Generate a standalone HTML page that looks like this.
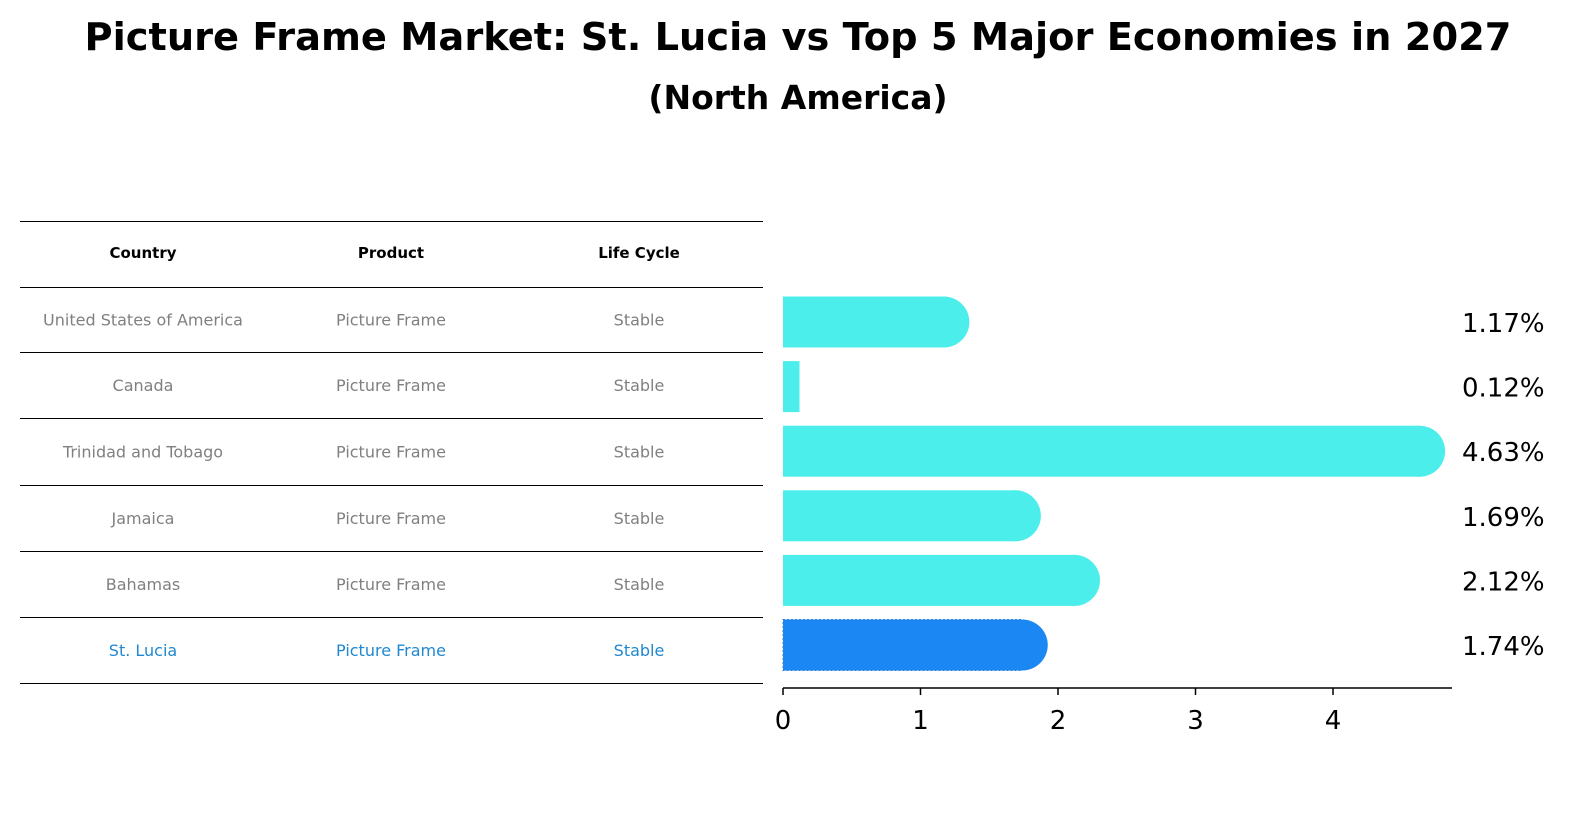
<!DOCTYPE html>
<html><head><meta charset="utf-8"><style>
body{margin:0;background:#fff;font-family:"DejaVu Sans","Liberation Sans",sans-serif;}
</style></head><body>
<svg width="1586" height="823" xmlns="http://www.w3.org/2000/svg" font-family="DejaVu Sans, Liberation Sans, sans-serif">
<text x="798" y="50" text-anchor="middle" font-size="38" font-weight="bold" textLength="1427" lengthAdjust="spacingAndGlyphs">Picture Frame Market: St. Lucia vs Top 5 Major Economies in 2027</text>
<text x="798" y="109" text-anchor="middle" font-size="33" font-weight="bold">(North America)</text>
<g id="table"></g>
<g id="bars"></g>
</svg>
<script>
const countries=["United States of America","Canada","Trinidad and Tobago","Jamaica","Bahamas","St. Lucia"];
const products=["Picture Frame","Picture Frame","Picture Frame","Picture Frame","Picture Frame","Picture Frame"];
const lifeCycles=["Stable","Stable","Stable","Stable","Stable","Stable"];
const values=[1.17,0.12,4.63,1.69,2.12,1.74];
const labels=["1.17%","0.12%","4.63%","1.69%","2.12%","1.74%"];
const ticks=[0,1,2,3,4];
const NS="http://www.w3.org/2000/svg";
function mk(tag,attrs,parent,text){const e=document.createElementNS(NS,tag);for(const k in attrs)e.setAttribute(k,attrs[k]);if(text!==undefined)e.textContent=text;parent.appendChild(e);return e;}
const tbl=document.getElementById('table');
const lineYs=[221,287,352,418,485,551,617,683];
lineYs.forEach(y=>{const l=mk('line',{x1:20,x2:763,y1:y+0.5,y2:y+0.5,stroke:'#000','stroke-width':1},tbl);

});
const colX=[143,391,639];
["Country","Product","Life Cycle"].forEach((h,i)=>{const t=mk('text',{x:colX[i],y:258,'text-anchor':'middle','font-size':15,'font-weight':'bold'},tbl,h);

});
countries.forEach((c,r)=>{const y=(lineYs[r+1]+lineYs[r+2])/2+6;const col=r===countries.length-1?'#1f88d0':'#808080';
[c,products[r],lifeCycles[r]].forEach((v,i)=>{const t=mk('text',{x:colX[i],y:y,'text-anchor':'middle','font-size':16,fill:col},tbl,v);

});});
const bars=document.getElementById('bars');
const x0=783,pxPer=137.5,rowY0=322,rowStep=64.6,bh=51,axisY=688;
const xs=v=>x0+v*pxPer, ys=i=>rowY0+i*rowStep;
values.forEach((v,i)=>{const last=i===values.length-1;const fill=last?'#1a87f2':'#4beeea';
const g=mk('g',{},bars);


mk('rect',{x:x0,y:ys(i)-bh/2,width:v*pxPer,height:bh,fill:fill,stroke:last?'#3a7fd0':'none','stroke-dasharray':last?'2,2':'none'},g);
if(v*pxPer>bh/2)mk('circle',{cx:xs(v),cy:ys(i),r:bh/2,fill:fill},g);
const t=mk('text',{x:1462,y:ys(i)+10,'font-size':26},bars,labels[i]);

});
const ax=mk('line',{x1:x0,x2:1452,y1:axisY,y2:axisY,stroke:'#000','stroke-width':1.5},bars);


ticks.forEach(t=>{mk('line',{x1:xs(t),x2:xs(t),y1:axisY,y2:axisY+7,stroke:'#000','stroke-width':1.5},bars);
const tl=mk('text',{x:xs(t),y:axisY+41,'text-anchor':'middle','font-size':26},bars,String(t));

});
</script>
</body></html>
